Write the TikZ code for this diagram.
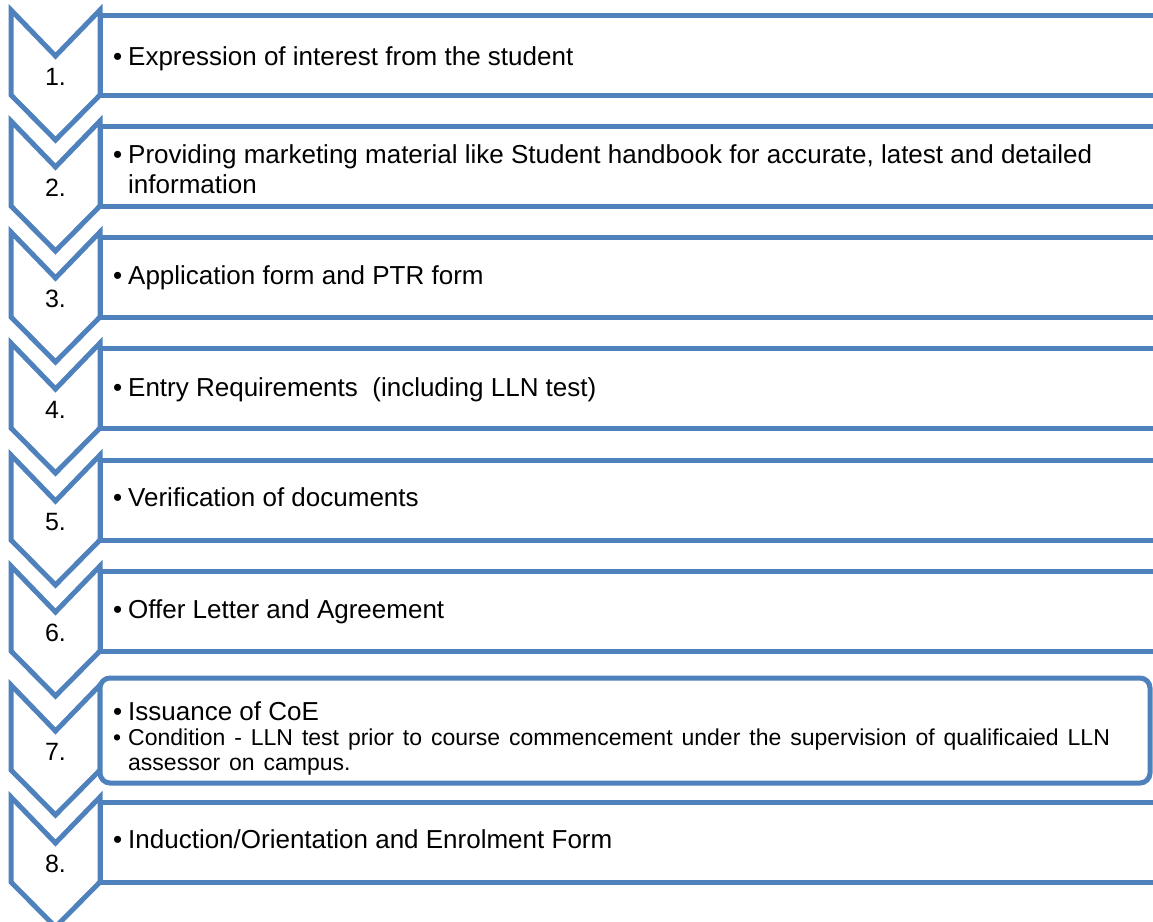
\documentclass[tikz,border=0pt]{standalone}
\usepackage{fontspec}
\setmainfont{Liberation Sans}
\newfontfamily\subfont[WordSpace=1.4]{Liberation Sans}
\definecolor{chev}{HTML}{4F81BD}
\newcommand{\bul}{\makebox[15pt][l]{\textbullet}}
\begin{document}
\begin{tikzpicture}[x=1pt,y=-1pt,
  chevline/.style={draw=chev,line width=5pt,fill=white,line join=miter},
  boxline/.style={draw=chev,line width=5pt,fill=white},
  numlbl/.style={font=\fontsize{25}{30}\selectfont,inner sep=0pt,anchor=center},
  mainline/.style={font=\fontsize{26}{30}\selectfont,inner sep=0pt,anchor=base west},
  subline/.style={font=\subfont\fontsize{23}{26}\selectfont,inner sep=0pt,anchor=base west}]
\useasboundingbox (0,0) rectangle (1153,921);
\clip (0,0) rectangle (1153,921);
% chevrons
\foreach \t/\n [count=\i] in {10/1,121/2,232/3,343/4,455/5,566/6,685/7,797/8}{
  \draw[chevline] (11,\t) -- (55.5,\t+46) -- (100,\t) -- (100,\t+85) -- (55.5,\t+130) -- (11,\t+85) -- cycle;
  \node[numlbl] (n\i) at (55.5,\t+67) {\n.};
}
% boxes
\foreach \t [count=\i] in {10,121,232,343,455,566}{
  \draw[boxline] (100,\t+5) rectangle (1170,\t+85);
}
\draw[boxline,rounded corners=10pt] (100,678) rectangle (1150,783);
\draw[boxline] (100,802) rectangle (1170,882);
% texts
\node[mainline] (t1) at (113,65) {\bul Expression of interest from the student};
\node[mainline] (t2a) at (113,163) {\bul Providing marketing material like Student handbook for accurate, latest and detailed};
\node[mainline] (t2b) at (128,193) {information};
\node[mainline] (t3) at (113,284) {\bul Application form and PTR form};
\node[mainline] (t4) at (113,396) {\bul Entry Requirements\ \ (including LLN test)};
\node[mainline] (t5) at (113,506) {\bul Verification of documents};
\node[mainline] (t6) at (113,618) {\bul Offer Letter and Agreement};
\node[mainline] (t7a) at (113,720) {\bul Issuance of CoE};
\node[subline] (t7b) at (113,745) {\makebox[15pt][l]{\textbullet}Condition - LLN test prior to course commencement under the supervision of qualificaied LLN};
\node[subline] (t7c) at (128,770) {assessor on campus.};
\node[mainline] (t8) at (113,848) {\bul Induction/Orientation and Enrolment Form};
\end{tikzpicture}
\end{document}
